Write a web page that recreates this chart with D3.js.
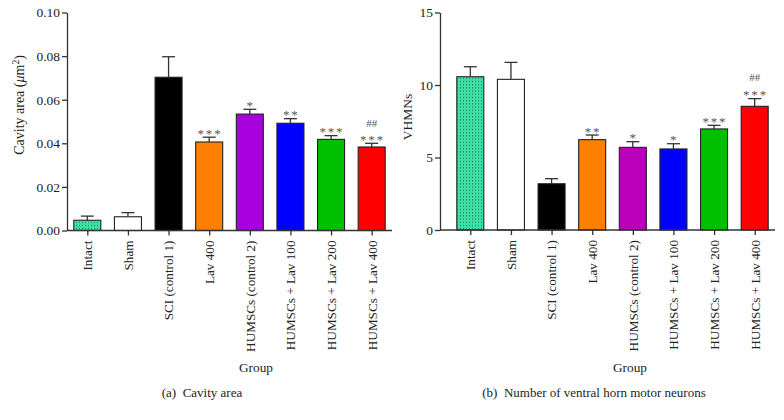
<!DOCTYPE html>
<html><head><meta charset="utf-8">
<script src="https://cdn.jsdelivr.net/npm/d3@7"></script>
<style>
body{margin:0;background:#fff;}
svg text{font-family:"Liberation Serif","Times New Roman",serif;fill:#222;}
</style></head>
<body>
<svg id="c" width="784" height="420"></svg>
<script>
const categories = ["Intact","Sham","SCI (control 1)","Lav 400","HUMSCs (control 2)","HUMSCs + Lav 100","HUMSCs + Lav 200","HUMSCs + Lav 400"];
const colorsA = ["#3ee0a6","#ffffff","#000000","#ff8000","#a800dc","#0000ff","#00c000","#ff0000"];
const colorsB = ["#3ee0a6","#ffffff","#000000","#ff8000","#bb00bb","#0000ff","#00c000","#ff0000"];
const cavityMean = [0.0047,0.0063,0.0703,0.0406,0.0534,0.0492,0.0418,0.0383];
const cavityErr  = [0.0019,0.0019,0.0094,0.0022,0.0022,0.0021,0.0017,0.0017];
const cavityStars = ["","","","***","*","**","***","***"];
const cavityHash  = ["","","","","","","","##"];
const vhmnMean = [10.57,10.39,3.19,6.23,5.70,5.59,6.97,8.53];
const vhmnErr  = [0.69,1.17,0.35,0.32,0.39,0.36,0.25,0.53];
const vhmnStars = ["","","","**","*","*","***","***"];
const vhmnHash  = ["","","","","","","","##"];
const cavityTicks = [0,0.02,0.04,0.06,0.08,0.10];
const vhmnTicks = [0,5,10,15];

const svg = d3.select("#c");
const defs = svg.append("defs");
const pat = defs.append("pattern").attr("id","dots").attr("patternUnits","userSpaceOnUse")
  .attr("width",3).attr("height",3.2);
pat.append("rect").attr("width",3).attr("height",3.2).attr("fill","#3ee0a6");
pat.append("rect").attr("x",1).attr("y",1).attr("width",1).attr("height",1).attr("fill","#1a6a4c");

function panel(cfg){
  const g = svg.append("g");
  const x = d3.scalePoint().domain(categories).range(cfg.xr).padding(0.5);
  const y = d3.scaleLinear().domain(cfg.yd).range(cfg.yr);
  const bw = x.step()*0.665;
  const ink = "#333";
  categories.forEach((c,i)=>{
    const x0 = x(c)-bw/2;
    g.append("rect").attr("x",x0).attr("y",y(cfg.mean[i]))
      .attr("width",bw).attr("height",y(0)-y(cfg.mean[i]))
      .attr("fill", i===0 ? "url(#dots)" : cfg.colors[i])
      .attr("stroke","#222").attr("stroke-width",1.1);
    const top = y(cfg.mean[i]+cfg.err[i]);
    g.append("line").attr("x1",x(c)).attr("x2",x(c)).attr("y1",y(cfg.mean[i])).attr("y2",top)
      .attr("stroke",ink).attr("stroke-width",1.3);
    g.append("line").attr("x1",x(c)-6.5).attr("x2",x(c)+6.5).attr("y1",top).attr("y2",top)
      .attr("stroke",ink).attr("stroke-width",1.3);
    if(cfg.stars[i]){
      g.append("text").attr("x",x(c)+0.8).attr("y",top+0.5).attr("text-anchor","middle")
        .attr("font-size",13).attr("letter-spacing",1.8).style("fill","#555").text(cfg.stars[i]);
    }
    if(cfg.hash[i]){
      g.append("text").attr("x",x(c)).attr("y",top-6-cfg.hashGap+4).attr("text-anchor","middle")
        .attr("font-size",11).style("fill","#555").text(cfg.hash[i]);
    }
  });
  const ya = g.append("g").attr("transform",`translate(${cfg.yAxisX},0)`)
    .call(d3.axisLeft(y).tickValues(cfg.ticks).tickFormat(cfg.fmt).tickSize(5).tickSizeOuter(0));
  ya.select(".domain").attr("stroke",ink).attr("stroke-width",1.3);
  ya.selectAll(".tick line").attr("stroke",ink).attr("stroke-width",1.3);
  ya.selectAll(".tick text").attr("font-size",13.5).attr("font-family","Liberation Serif").attr("x",-7).style("fill","#222");
  const xa = g.append("g").attr("transform",`translate(0,${y(0)})`)
    .call(d3.axisBottom(x).tickSize(5).tickSizeOuter(0));
  xa.select(".domain").remove();
  xa.selectAll(".tick line").attr("stroke",ink).attr("stroke-width",1.3);
  xa.selectAll(".tick text").attr("font-size",13.2).attr("font-family","Liberation Serif")
    .attr("transform","rotate(-90)").attr("text-anchor","end").attr("x",-10).attr("y",0).attr("dy","0.33em").style("fill","#222");
  g.append("line").attr("x1",cfg.yAxisX).attr("x2",cfg.xr[1]).attr("y1",y(0)).attr("y2",y(0))
    .attr("stroke",ink).attr("stroke-width",1.3);
  g.append("text").attr("x",cfg.groupX).attr("y",372).attr("text-anchor","middle").attr("font-size",13.3).text("Group");
  g.append("text").attr("x",cfg.capX).attr("y",397).attr("text-anchor","middle").attr("font-size",13).attr("xml:space","preserve").text(cfg.caption);
  const yt = g.append("text").attr("transform",`translate(${cfg.ytX},${cfg.ytY}) rotate(-90)`)
    .attr("text-anchor","middle").attr("font-size",cfg.ytSize);
  cfg.ytitle(yt);
}

panel({xr:[67,392], yAxisX:67, yd:[0,0.10], yr:[230.5,12.5], mean:cavityMean, err:cavityErr,
  stars:cavityStars, hash:cavityHash, colors:colorsA, ticks:cavityTicks, fmt:d3.format(".2f"),
  hashGap:14, groupX:256, capX:202, caption:"(a)  Cavity area", ytX:24, ytY:105, ytSize:14,
  ytitle: t=>{ t.append("tspan").text("Cavity area (");
    t.append("tspan").attr("font-style","italic").text("μ");
    t.append("tspan").text("m");
    t.append("tspan").attr("font-size",9.5).attr("dy",-5).text("2");
    t.append("tspan").attr("dy",5).text(")"); }});

panel({xr:[450,775], yAxisX:440, yd:[0,15], yr:[230,12.5], mean:vhmnMean, err:vhmnErr,
  stars:vhmnStars, hash:vhmnHash, colors:colorsB, ticks:vhmnTicks, fmt:d3.format("d"),
  hashGap:16, groupX:630, capX:594, caption:"(b)  Number of ventral horn motor neurons", ytX:412, ytY:117, ytSize:13.5,
  ytitle: t=>{ t.text("VHMNs"); }});
</script>
</body></html>
